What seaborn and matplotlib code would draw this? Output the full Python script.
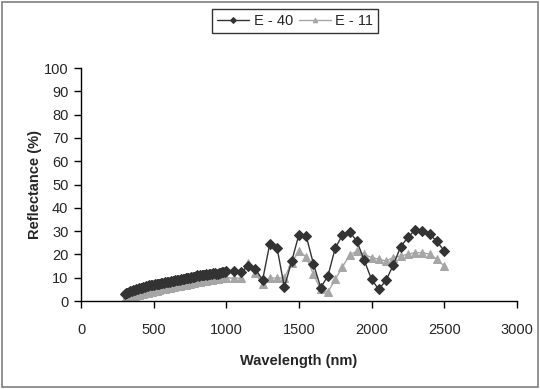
import matplotlib
matplotlib.use("Agg")
import matplotlib.pyplot as plt
import seaborn as sns
from matplotlib.patches import Rectangle

# wavelengths (nm): every 10 nm up to 1000, then every 50 nm
wavelength = [300, 310, 320, 330, 340, 350, 360, 370, 380, 390,
              400, 410, 420, 430, 440, 450, 460, 470, 480, 490,
              500, 510, 520, 530, 540, 550, 560, 570, 580, 590,
              600, 610, 620, 630, 640, 650, 660, 670, 680, 690,
              700, 710, 720, 730, 740, 750, 760, 770, 780, 790,
              800, 810, 820, 830, 840, 850, 860, 870, 880, 890,
              900, 910, 920, 930, 940, 950, 960, 970, 980, 990,
              1000, 1050, 1100, 1150, 1200, 1250, 1300, 1350, 1400, 1450,
              1500, 1550, 1600, 1650, 1700, 1750, 1800, 1850, 1900, 1950,
              2000, 2050, 2100, 2150, 2200, 2250, 2300, 2350, 2400, 2450, 2500]

e40 = [3.0, 3.3, 3.6, 3.9, 4.2, 4.5, 4.7, 4.9, 5.1, 5.3,
       5.5, 5.7, 5.8, 6.0, 6.2, 6.4, 6.5, 6.7, 6.8, 6.9,
       7.0, 7.2, 7.3, 7.4, 7.5, 7.7, 7.8, 7.9, 8.0, 8.2,
       8.3, 8.4, 8.5, 8.6, 8.7, 8.9, 9.0, 9.1, 9.2, 9.3,
       9.4, 9.6, 9.7, 9.8, 9.9, 10.1, 10.2, 10.4, 10.5, 10.9,
       11.2, 10.9, 11.0, 11.2, 11.4, 11.3, 11.6, 11.4, 11.5, 11.7,
       11.8, 11.9, 12.0, 11.6, 11.7, 12.0, 12.2, 12.4, 12.6, 12.3,
       12.8, 12.9, 12.4, 15.0, 13.9, 9.0, 24.7, 22.7, 6.0, 17.0,
       28.5, 28.0, 16.0, 5.8, 10.8, 22.7, 28.4, 29.7, 25.6, 17.5,
       9.3, 5.0, 8.9, 15.5, 23.3, 27.3, 30.6, 30.2, 28.7, 25.6, 21.6]

e11 = [0.8, 1.0, 1.2, 1.4, 1.6, 1.8, 2.0, 2.2, 2.4, 2.5,
       2.7, 2.9, 3.0, 3.2, 3.3, 3.5, 3.6, 3.8, 3.9, 4.1,
       4.2, 4.4, 4.5, 4.7, 4.8, 5.0, 5.1, 5.2, 5.3, 5.5,
       5.6, 5.8, 5.9, 6.0, 6.1, 6.3, 6.4, 6.5, 6.6, 6.8,
       6.9, 7.0, 7.1, 7.3, 7.4, 7.5, 7.6, 7.7, 7.8, 8.0,
       8.1, 8.2, 8.3, 8.5, 8.6, 8.7, 8.8, 8.9, 9.0, 9.1,
       9.2, 9.3, 9.4, 9.5, 9.6, 9.7, 9.8, 9.9, 10.0, 10.0,
       10.1, 9.8, 9.9, 16.5, 12.0, 7.2, 10.0, 9.8, 10.0, 16.5,
       21.5, 19.0, 11.5, 5.0, 3.9, 9.3, 14.7, 19.8, 21.5, 20.0,
       18.7, 18.0, 17.2, 18.7, 19.4, 20.1, 20.8, 20.8, 20.1, 18.0, 15.1]

sns.set_style("white")
plt.rcParams['font.family'] = ['Liberation Sans', 'DejaVu Sans']

fig = plt.figure(figsize=(5.4, 3.89), dpi=100)
ax = fig.add_axes([0.15, 0.226, 0.807, 0.599])

sns.lineplot(x=wavelength, y=e11, ax=ax, color='#a6a6a6', marker='^', markersize=5.5,
             markeredgecolor='#a6a6a6', linewidth=1, label='E - 11', zorder=2)
sns.lineplot(x=wavelength, y=e40, ax=ax, color='#333333', marker='D', markersize=5,
             markeredgecolor='#333333', linewidth=1, label='E - 40', zorder=3)

ax.set_xlim(0, 3000)
ax.set_ylim(0, 100)
ax.set_xticks(range(0, 3001, 500))
ax.set_yticks(range(0, 101, 10))
ax.tick_params(axis='both', direction='out', length=5, width=1, color='black',
               labelsize=10.5, left=True, bottom=True)
ax.tick_params(axis='x', pad=11)
ax.tick_params(axis='y', pad=4)
for side in ['top', 'right']:
    ax.spines[side].set_visible(False)
for side in ['left', 'bottom']:
    ax.spines[side].set_color('black')
    ax.spines[side].set_linewidth(1)

ax.set_xlabel('Wavelength (nm)', fontsize=10.5, fontweight='bold', labelpad=12)
ax.set_ylabel('Reflectance (%)', fontsize=10.5, fontweight='bold', labelpad=1)

ax.get_legend().remove()
handles, labels = ax.get_legend_handles_labels()
handles, labels = handles[::-1], labels[::-1]
leg = fig.legend(handles, labels, loc='center', bbox_to_anchor=(0.547, 0.946), ncol=2,
                 fancybox=False, frameon=True, edgecolor='black', fontsize=10.5,
                 handlelength=2.2, handletextpad=0.3, columnspacing=0.4,
                 borderpad=0.35, borderaxespad=0, markerscale=0.6)
leg.get_frame().set_linewidth(1)

# chart area border
fig.add_artist(Rectangle((0.004, 0.004), 0.992, 0.992, transform=fig.transFigure,
                         fill=False, edgecolor='#7f7f7f', linewidth=1.2))

fig.savefig('out.png', dpi=100)
